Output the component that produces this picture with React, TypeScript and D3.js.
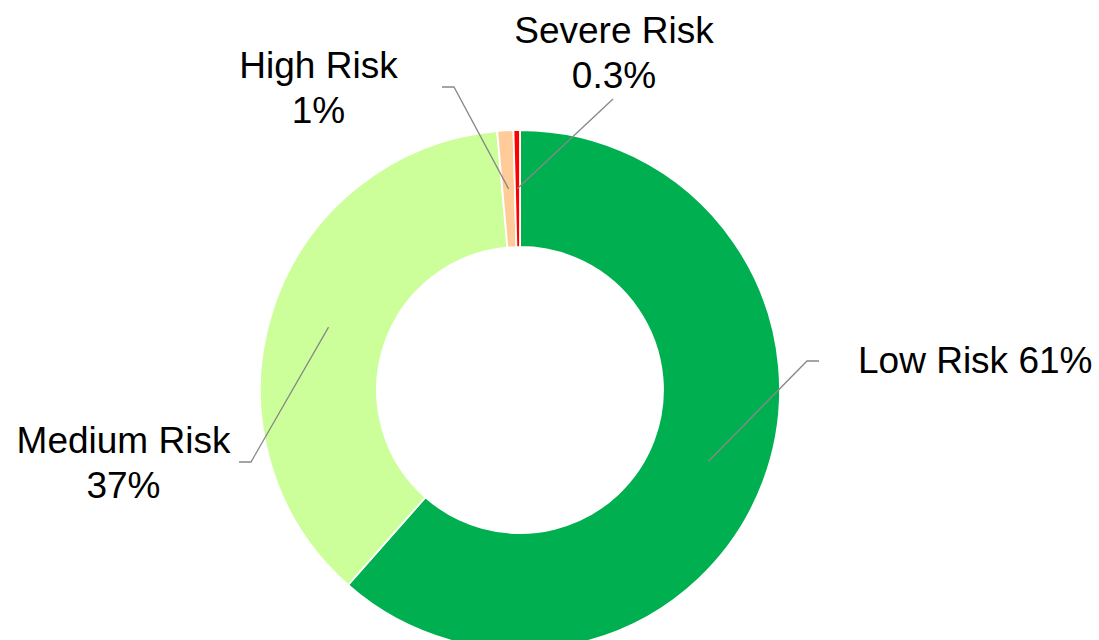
import React from "react";
import * as d3 from "d3";

const categories = ["Low Risk", "Medium Risk", "High Risk", "Severe Risk"];
const values = [61.5, 37.1, 1.0, 0.4];
const valueLabels = ["61%", "37%", "1%", "0.3%"];
const colors = ["#00B050", "#CCFF99", "#FFCC99", "#FF0000"];

// label layout (positions of label texts and leader elbows)
const labelLayout = [
  { lines: 1, x: 858, y: 373, anchor: "start", elbow: [807, 361], end: [819, 361] },
  { lines: 2, x: 123.5, y: 453, anchor: "middle", elbow: [251, 462], end: [239, 462] },
  { lines: 2, x: 318.5, y: 78, anchor: "middle", elbow: [454, 87], end: [442, 87] },
  { lines: 2, x: 614, y: 43, anchor: "middle", elbow: null, end: [613, 99] },
];

const W = 1099;
const H = 640;
const cx = 520;
const cy = 390;
const outerR = 260;
const innerR = 143;

export default function App() {
  const pie = d3
    .pie<number>()
    .sort(null)
    .value((d) => d)
    .startAngle(0)
    .endAngle(2 * Math.PI);
  const arcs = pie(values);
  const arc = d3.arc<d3.PieArcDatum<number>>().innerRadius(innerR).outerRadius(outerR);
  const fontSize = 37;
  const lineH = 44.5;

  return (
    <svg
      width={W}
      height={H}
      style={{ position: "absolute", left: 0, top: 0, background: "#fff" }}
      fontFamily="'Liberation Sans', Arial, sans-serif"
    >
      <g transform={`translate(${cx},${cy})`}>
        {arcs.map((a, i) => (
          <path key={i} d={arc(a) || ""} fill={colors[i]} stroke="#fff" strokeWidth={1.8} />
        ))}
      </g>
      {arcs.map((a, i) => {
        const c = arc.centroid(a);
        const L = labelLayout[i];
        const pts: number[][] = [[cx + c[0], cy + c[1]]];
        if (L.elbow) pts.push(L.elbow);
        pts.push(L.end);
        const line = d3.line()(pts as [number, number][]) || "";
        return <path key={"l" + i} d={line} fill="none" stroke="#888" strokeWidth={1.3} />;
      })}
      {labelLayout.map((L, i) => (
        <text
          key={"t" + i}
          x={L.x}
          y={L.y}
          textAnchor={L.anchor as any}
          fontSize={fontSize}
          fill="#000"
        >
          {L.lines === 1 ? (
            `${categories[i]} ${valueLabels[i]}`
          ) : (
            <>
              <tspan x={L.x}>{categories[i]}</tspan>
              <tspan x={L.x} dy={lineH}>
                {valueLabels[i]}
              </tspan>
            </>
          )}
        </text>
      ))}
    </svg>
  );
}
